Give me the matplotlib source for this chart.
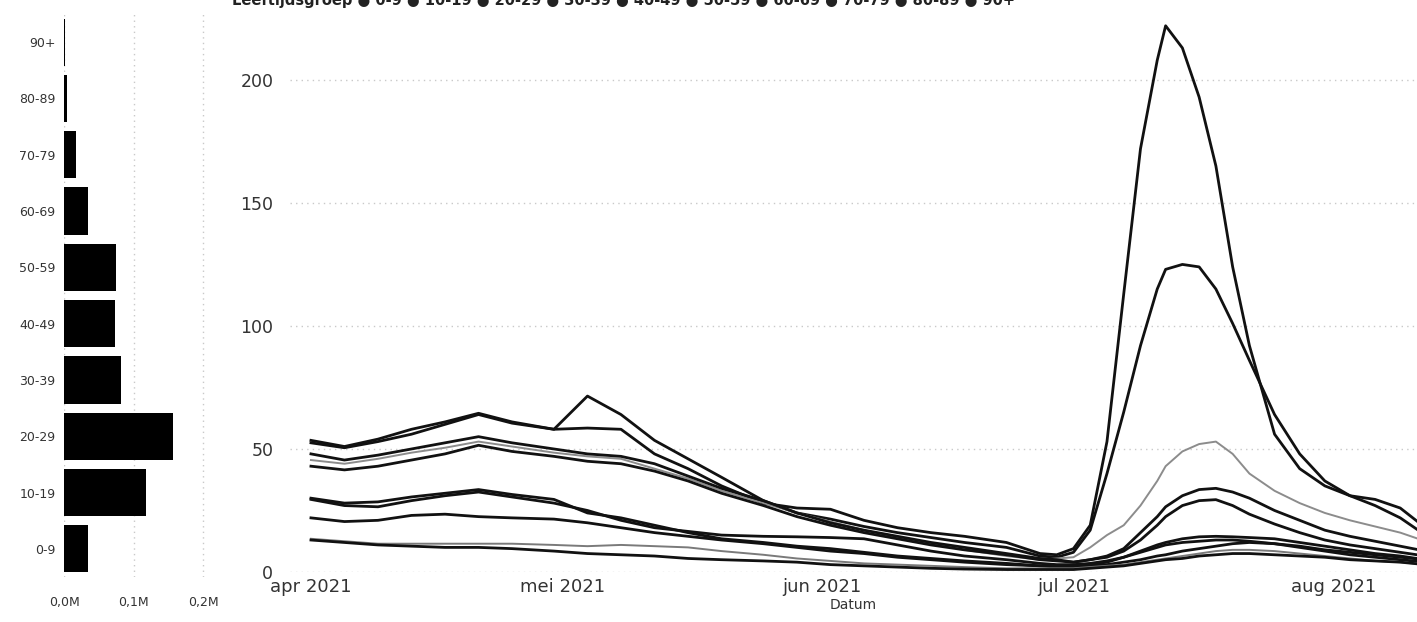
import numpy as np
import pandas as pd
import matplotlib
matplotlib.use('Agg')
import matplotlib.pyplot as plt
import matplotlib.transforms as mtransforms

# age groups and totals (left bar chart, in millions)
groups = ['0-9', '10-19', '20-29', '30-39', '40-49', '50-59', '60-69', '70-79', '80-89', '90+']
totals = [0.034, 0.118, 0.157, 0.082, 0.074, 0.075, 0.035, 0.017, 0.004, 0.0008]

# dates of the line chart
dates = pd.to_datetime([
    '2021-04-01', '2021-04-05', '2021-04-09', '2021-04-13', '2021-04-17', '2021-04-21',
    '2021-04-25', '2021-04-30', '2021-05-04', '2021-05-08', '2021-05-12', '2021-05-16',
    '2021-05-20', '2021-05-25', '2021-05-29', '2021-06-02', '2021-06-06', '2021-06-10',
    '2021-06-14', '2021-06-18', '2021-06-23', '2021-06-27', '2021-06-29',
    '2021-07-01', '2021-07-03', '2021-07-05', '2021-07-07', '2021-07-09', '2021-07-11',
    '2021-07-12', '2021-07-14', '2021-07-16', '2021-07-18', '2021-07-20', '2021-07-22',
    '2021-07-25', '2021-07-28', '2021-07-31', '2021-08-03', '2021-08-06', '2021-08-09',
    '2021-08-12'])

# values per age group
v_0_9 = [30, 28, 28.5, 30.5, 32, 33.5, 31.5, 29.5, 24, 22, 19, 16, 13.5, 12, 10.5, 9.5, 8, 6.5, 5.5, 4.5, 3.5, 2.5, 2.5,
         2.5, 3, 4, 6, 8.5, 11, 12, 13.5, 14.3, 14.5, 14.3, 14, 13.5, 12, 10.5, 9, 7.5, 6.5, 5]
v_10_19 = [52.5, 50.5, 53, 56, 60, 64, 60.5, 58, 71.5, 64, 53.5, 46, 38.5, 29, 24, 21.5, 18.5, 16, 14, 12, 10, 6.5, 6,
           8, 17, 40, 65, 92, 115, 123, 125, 124, 115, 101, 86, 64, 48, 37, 31, 29.5, 26, 18]
v_20_29 = [53.5, 51, 54, 58, 61, 64.5, 61, 58, 58.5, 58, 48, 42, 35, 28, 26, 25.5, 21, 18, 16, 14.5, 12, 7.5, 7,
           9.5, 19, 53, 113, 172, 208, 222, 213, 193, 165, 124, 92, 56, 42, 35, 31, 27, 22, 15]
v_30_39 = [45.5, 44, 46, 48.5, 50.5, 53, 51, 48.5, 47, 46, 42, 38, 33, 28, 24, 20.5, 17, 14, 11.5, 9, 6.5, 5, 5.5,
           6, 10, 15, 19, 27, 37, 43, 49, 52, 53, 48, 40, 33, 28, 24, 21, 18.5, 16, 12.5]
v_40_49 = [43, 41.5, 43, 45.5, 48, 51.5, 49, 47, 45, 44, 41, 37, 32, 27, 22.5, 19, 16, 13.5, 11, 9, 7, 5, 4.5,
           4, 5, 6.5, 9.5, 16, 22.5, 26.5, 31, 33.5, 34, 32.5, 30, 25, 21, 17, 14.5, 12.5, 10.5, 8.5]
v_50_59 = [48, 45.5, 47.5, 50, 52.5, 55, 52.5, 50, 48, 47, 44, 39, 34, 29, 24, 20, 17, 14.5, 12, 10, 7.5, 5.5, 5,
           4, 5, 6, 8.5, 13, 19, 22.5, 27, 29, 29.4, 27, 23.5, 19.5, 16, 13, 11, 9.5, 8, 6.5]
v_60_69 = [29.5, 27, 26.5, 29, 31, 32.5, 30.5, 28, 25, 21, 18, 16.5, 15, 14.5, 14.3, 14, 13.5, 11, 8.5, 6.5, 5, 3.5, 3,
           3, 3.5, 4.5, 6, 8, 10, 11, 12, 12.5, 13, 13, 12.5, 11.5, 10.5, 9, 8, 7, 6, 5]
v_70_79 = [22, 20.5, 21, 23, 23.5, 22.5, 22, 21.5, 20, 18, 16, 14.5, 13, 11.5, 10, 8.5, 7.5, 6, 5, 4, 3, 2.5, 2,
           2, 2.5, 3, 4, 5, 6.5, 7, 8.5, 9.5, 10.5, 11.5, 12, 11.5, 10, 8.5, 7, 6, 5, 4]
v_80_89 = [13.5, 12.5, 11.5, 11.5, 11.5, 11.5, 11.5, 11, 10.5, 11, 10.5, 10, 8.5, 7, 5.5, 4.5, 3.5, 3, 2.5, 2, 1.5, 1.5, 1.5,
           1.5, 2, 2.5, 3, 4, 5, 5.5, 6.5, 7.5, 8.5, 9, 9, 8.5, 7.5, 6.5, 5.5, 4.5, 4, 3]
v_90 = [13, 12, 11, 10.5, 10, 10, 9.5, 8.5, 7.5, 7, 6.5, 5.5, 5, 4.5, 4, 3, 2.5, 2, 1.5, 1.2, 1, 1, 1,
        1, 1.5, 2, 2.5, 3.5, 4.5, 5, 5.5, 6.5, 7, 7.5, 7.5, 7, 6.5, 6, 5, 4.5, 4, 3]

series = [v_0_9, v_10_19, v_20_29, v_30_39, v_40_49, v_50_59, v_60_69, v_70_79, v_80_89, v_90]
line_colors = ['#111111', '#111111', '#111111', '#8c8c8c', '#111111', '#111111',
               '#111111', '#111111', '#7a7a7a', '#111111']

month_ticks = pd.to_datetime(['2021-04-01', '2021-05-01', '2021-06-01', '2021-07-01', '2021-08-01'])
month_labels = ['apr 2021', 'mei 2021', 'jun 2021', 'jul 2021', 'aug 2021']

W, H = 1417, 622
fig = plt.figure(figsize=(W / 100, H / 100), dpi=100)

grid_kw = dict(color='#c9c9c9', linestyle=(0, (1, 3)), linewidth=1)

# left: totals per age group
axb = fig.add_axes([64 / W, 1 - 577 / H, 176 / W, 563 / H])
ypos = np.arange(len(groups))
axb.barh(ypos, totals, height=0.84, color='black')
axb.set_ylim(-0.5, 9.5)
axb.set_xlim(0, 0.253)
axb.set_yticks(ypos)
axb.set_yticklabels(groups, fontsize=9, color='#333333')
axb.set_xticks([0, 0.1, 0.2])
axb.set_xticklabels(['0,0M', '0,1M', '0,2M'], fontsize=9, color='#333333')
axb.tick_params(length=0, pad=6)
axb.tick_params(axis='x', pad=14)
for s in axb.spines.values():
    s.set_visible(False)
for xv in [0, 0.1, 0.2]:
    axb.axvline(xv, zorder=0, **grid_kw)

# main: line chart
ax = fig.add_axes([290 / W, 1 - 572 / H, 1 - 290 / W, 561 / H])
for vals, c in zip(series, line_colors):
    lw = 1.4 if c != '#111111' else 2.0
    ax.plot(dates, vals, color=c, linewidth=lw, solid_joinstyle='round')

ax.set_xlim(pd.Timestamp('2021-04-01') - pd.Timedelta(days=2.5),
            pd.Timestamp('2021-04-01') + pd.Timedelta(days=132))
ax.set_ylim(0, 228)
ax.set_yticks([0, 50, 100, 150, 200])
ax.set_yticklabels(['0', '50', '100', '150', '200'], fontsize=12.5, color='#333333')
# lift the y labels a little above their gridline
lift = mtransforms.ScaledTranslation(0, 3 / 100, fig.dpi_scale_trans)
for lab in ax.get_yticklabels():
    lab.set_transform(lab.get_transform() + lift)
ax.set_xticks(month_ticks)
ax.set_xticklabels(month_labels, fontsize=13, color='#333333')
ax.tick_params(length=0)
ax.tick_params(axis='y', pad=12)
ax.tick_params(axis='x', pad=4)
for s in ax.spines.values():
    s.set_visible(False)
ax.grid(False)
for yv in [0, 50, 100, 150, 200]:
    ax.axhline(yv, zorder=0, **grid_kw)
ax.set_xlabel('Datum', fontsize=10, color='#333333', labelpad=2)

# legend line, cut off at the top as in the original
fig.text(232 / W, 1.0, 'Leeftijdsgroep ● 0-9 ● 10-19 ● 20-29 ● 30-39 ● 40-49 ● 50-59 '
         '● 60-69 ● 70-79 ● 80-89 ● 90+',
         fontsize=10.5, fontweight='bold', color='#222222', ha='left', va='center')

fig.savefig('out.png', dpi=100)
